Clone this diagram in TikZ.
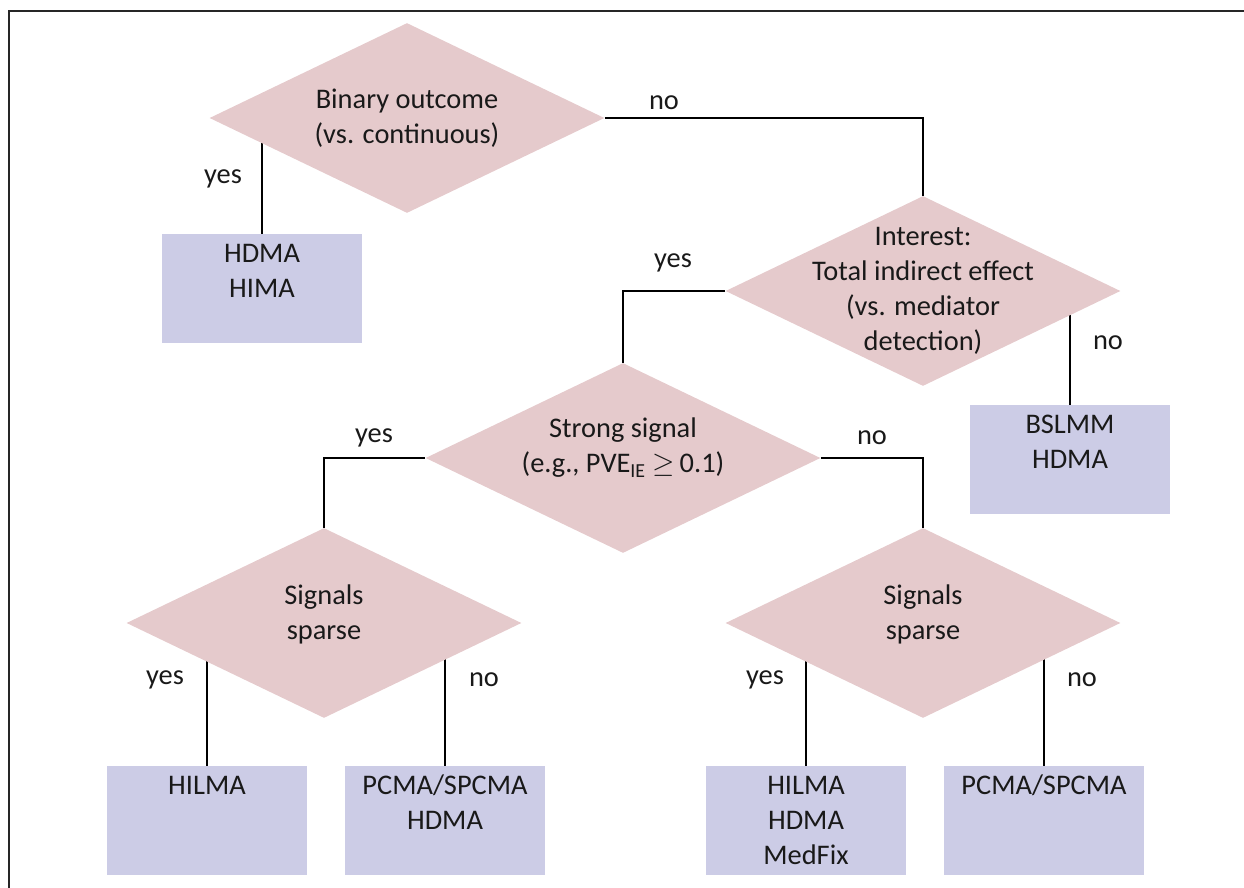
\documentclass[tikz,border=0pt]{standalone}
\usepackage{fontspec}
\setmainfont{Carlito}
\usetikzlibrary{shapes.geometric,backgrounds}

\definecolor{decpink}{RGB}{229,202,204}
\definecolor{resblue}{RGB}{204,204,230}
\definecolor{txtgray}{RGB}{25,25,25}

\tikzset{
	decision/.style={diamond, fill=decpink, inner sep=0pt, minimum width=197.5pt, minimum height=95pt},
	dtext/.style={align=center, inner sep=0pt, text=txtgray, font=\fontsize{14.2pt}{17.5pt}\selectfont},
	result/.style={rectangle, fill=resblue, anchor=north, inner sep=0pt, text width=100pt, align=center,
		minimum width=100pt, text height=14pt, text depth=40.5pt, text=txtgray, font=\fontsize{14.2pt}{17.5pt}\selectfont},
	answer/.style={inner sep=0pt, text=txtgray, font=\fontsize{14.2pt}{17.5pt}\selectfont},
	link/.style={line width=1.3pt, black},
	frame/.style={line width=1.3pt, black!85}
}

\begin{document}
\begin{tikzpicture}[x=0.5pt, y=-0.5pt]
	\useasboundingbox (0,0) rectangle (1244,888);
	
	% outer frame (only top and left edge visible)
	\draw[frame] (9,890) -- (9,11) -- (1246,11);
	
	% decisions
	\node[decision] (binary) at (407,118) {};
	\node[dtext] (binarytxt) at (binary) {Binary outcome\\(vs. continuous)};
	
	\node[decision] (interest) at (923,291) {};
	\node[dtext] (interesttxt) at (interest) {Interest:\\Total indirect effect\\(vs. mediator\\detection)};
	
	\node[decision] (strong) at (623,458) {};
	\node[dtext, yshift=5pt] (strongtxt) at (strong) {Strong signal\\(e.g., PVE\textsubscript{IE}~$\geq$\,0.1)};
	
	\node[decision] (sparseL) at (324,623) {};
	\node[dtext, yshift=4.5pt] (sparseLtxt) at (sparseL) {Signals\\sparse};
	
	\node[decision] (sparseR) at (923,623) {};
	\node[dtext, yshift=4.5pt] (sparseRtxt) at (sparseR) {Signals\\sparse};
	
	% methods
	\node[result] (binres) at (262,234) {HDMA\\HIMA};
	\node[result] (medres) at (1070,405) {BSLMM\\HDMA};
	\node[result] (hilmaL) at (207,766) {HILMA};
	\node[result] (pcmaL) at (445,766) {PCMA/SPCMA\\HDMA};
	\node[result] (hilmaR) at (806,766) {HILMA\\HDMA\\MedFix};
	\node[result] (pcmaR) at (1044,766) {PCMA/SPCMA};
	
	% yes / no
	\node[answer] (noA) at (664,103) {no};
	\node[answer] (yesA) at (223,179) {yes};
	\node[answer] (yesB) at (673,263) {yes};
	\node[answer] (noB) at (1108,343) {no};
	\node[answer] (yesC) at (374,438) {yes};
	\node[answer] (noC) at (872,438) {no};
	\node[answer] (yesD) at (165,680) {yes};
	\node[answer] (noD) at (484,680) {no};
	\node[answer] (yesE) at (765,680) {yes};
	\node[answer] (noE) at (1082,680) {no};
	
	% connectors, behind the diamonds
	\begin{scope}[on background layer]
		\draw[link] (binary.east) -| (interest.north);
		\draw[link] (binres.north) -- (binres.north |- binary.center);
		\draw[link] (interest.west) -| (strong.north);
		\draw[link] (medres.north) -- (medres.north |- interest.center);
		\draw[link] (strong.west) -| (sparseL.north);
		\draw[link] (strong.east) -| (sparseR.north);
		\draw[link] (hilmaL.north) -- (hilmaL.north |- sparseL.center);
		\draw[link] (pcmaL.north) -- (pcmaL.north |- sparseL.center);
		\draw[link] (hilmaR.north) -- (hilmaR.north |- sparseR.center);
		\draw[link] (pcmaR.north) -- (pcmaR.north |- sparseR.center);
	\end{scope}
\end{tikzpicture}
\end{document}
